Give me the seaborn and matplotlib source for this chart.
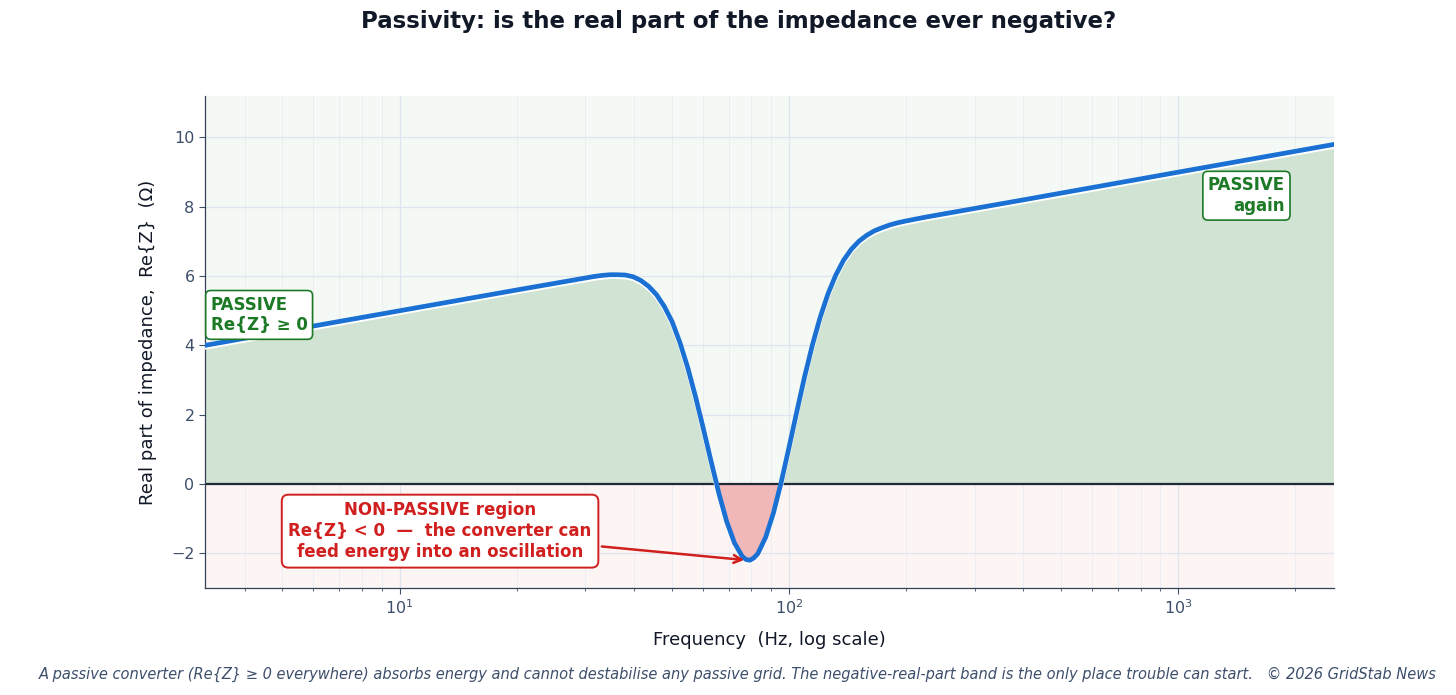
import numpy as np
import pandas as pd
import matplotlib
matplotlib.use("Agg")
import matplotlib.pyplot as plt
import matplotlib.patheffects as pe
import seaborn as sns

# ==================================
# Data
# ==================================
freq_hz = [3.162, 5, 10, 20,
           31.62, 33.11, 34.67, 36.31, 38.02, 39.81, 41.69, 43.65, 45.71, 47.86,
           50.12, 52.48, 54.95, 57.54, 60.26, 63.10, 66.07, 69.18, 72.44, 75.86,
           77.62, 79.43, 81.28, 83.18, 87.10, 91.20, 95.50, 100.0, 104.7, 109.6,
           114.8, 120.2, 125.9, 131.8, 138.0, 144.5, 151.4, 158.5, 166.0, 173.8,
           182.0, 190.5, 199.5, 223.9, 400, 1000, 2512]
re_z = [4.00, 4.40, 5.00, 5.60,
        5.99, 6.02, 6.04, 6.04, 6.03, 5.98, 5.87, 5.70, 5.46, 5.12,
        4.68, 4.08, 3.36, 2.52, 1.60, 0.65, -0.27, -1.08, -1.70, -2.09,
        -2.18, -2.20, -2.13, -2.01, -1.54, -0.84, 0.05, 1.05, 2.08, 3.08,
        4.00, 4.80, 5.48, 6.02, 6.45, 6.77, 7.01, 7.18, 7.31, 7.40,
        7.48, 7.54, 7.59, 7.70, 8.20, 9.00, 9.80]

y_ticks = [-2, 0, 2, 4, 6, 8, 10]

df = pd.DataFrame({"freq": freq_hz, "rez": re_z})

# colours
BLUE = "#1a70d3"
GREEN = "#1c7a26"
RED = "#d11f1f"
INK = "#111827"
TICK = "#3d4f6b"

sns.set_theme(style="white")
plt.rcParams["font.family"] = ["DejaVu Sans"]

fig = plt.figure(figsize=(14.56, 6.95), dpi=100)
ax = fig.add_axes([0.1408, 0.154, 0.7754, 0.708])

xmin, xmax = 10 ** 0.5, 10 ** 3.4
ax.set_xscale("log")
ax.set_xlim(xmin, xmax)
ax.set_ylim(-3, 11.2)

# background bands
ax.axhspan(0, 11.2, color="#f4f9f5", zorder=0)
ax.axhspan(-3, 0, color="#fdf5f4", zorder=0)

f = df["freq"].to_numpy()
z = df["rez"].to_numpy()
ax.fill_between(f, 0, z, where=z >= 0, interpolate=True,
                color="#d1e3d2", zorder=1, linewidth=0)
ax.fill_between(f, 0, z, where=z <= 0, interpolate=True,
                color="#f0b8b8", zorder=1, linewidth=0)

ax.grid(True, which="major", color="#dfe5ee", linewidth=0.9, zorder=0.5)
ax.grid(True, which="minor", axis="x", color="#e9edf3", linewidth=0.6, zorder=0.5)
ax.set_axisbelow(True)

ax.axhline(0, color="#1f2937", linewidth=1.6, zorder=2)

sns.lineplot(data=df, x="freq", y="rez", ax=ax, color=BLUE, linewidth=3.4,
             zorder=3, legend=False, solid_joinstyle="round", solid_capstyle="round",
             path_effects=[pe.SimpleLineShadow(offset=(0, -1.4), shadow_color="white", alpha=1),
                           pe.Normal()])

ax.set_yticks(y_ticks)
ax.set_yticklabels([f"{v}".replace("-", "\u2212") for v in y_ticks])
ax.tick_params(axis="both", which="major", labelsize=11.5, labelcolor=TICK,
               color=TICK, length=4, width=0.8, left=True, bottom=True)
ax.tick_params(axis="x", which="minor", color=TICK, length=2.5, width=0.6, bottom=True)

for side in ["top", "right"]:
    ax.spines[side].set_visible(False)
for side in ["left", "bottom"]:
    ax.spines[side].set_color("#334155")
    ax.spines[side].set_linewidth(0.9)

ax.set_xlabel("Frequency  (Hz, log scale)", fontsize=13, color=INK, labelpad=10)
ax.set_ylabel("Real part of impedance,  Re{Z}  (\u03a9)", fontsize=13, color=INK, labelpad=10)

# annotations
ax.text(3.27, 4.88, "PASSIVE\nRe{Z} \u2265 0", ha="left", va="center",
        fontsize=12, fontweight="bold", color=GREEN, zorder=5,
        bbox=dict(boxstyle="round,pad=0.3", facecolor="white", edgecolor=GREEN, linewidth=1.2))
ax.text(1880, 8.32, "PASSIVE\nagain", ha="right", va="center", multialignment="right",
        fontsize=12, fontweight="bold", color=GREEN, zorder=5,
        bbox=dict(boxstyle="round,pad=0.3", facecolor="white", edgecolor=GREEN, linewidth=1.2))
ax.annotate("NON-PASSIVE region\nRe{Z} < 0  \u2014  the converter can\nfeed energy into an oscillation",
            xy=(78, -2.2), xytext=(12.7, -1.36), ha="center", va="center",
            fontsize=12, fontweight="bold", color=RED, zorder=5,
            bbox=dict(boxstyle="round,pad=0.4", facecolor="white", edgecolor=RED, linewidth=1.4),
            arrowprops=dict(arrowstyle="->", color=RED, lw=1.8, mutation_scale=14))

fig.suptitle("Passivity: is the real part of the impedance ever negative?",
             x=0.507, y=0.985, fontsize=16.5, fontweight="bold", color=INK)

fig.text(0.507, 0.018,
         "A passive converter (Re{Z} \u2265 0 everywhere) absorbs energy and cannot destabilise any passive grid. "
         "The negative-real-part band is the only place trouble can start.   \u00a9 2026 GridStab News",
         ha="center", va="bottom", fontsize=10.5, style="italic", color=TICK)

fig.savefig("out.png", dpi=100)
